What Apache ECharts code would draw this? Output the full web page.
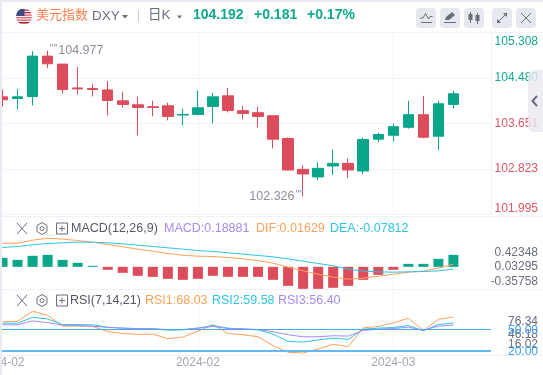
<!DOCTYPE html>
<html>
<head>
<meta charset="utf-8">
<title>DXY</title>
<style>
  html, body { margin: 0; padding: 0; background: #fff; }
  #chart { width: 543px; height: 375px; }
</style>
<script src="https://cdn.jsdelivr.net/npm/echarts@6/dist/echarts.min.js"></script>
</head>
<body>
<div id="chart"></div>
<script>
// 日K 数据
const opens = [104.137, 104.107, 104.143, 104.878, 104.733, 104.299, 104.287, 104.263, 104.064, 103.992, 103.956, 103.974, 103.805, 103.817, 103.962, 104.155, 103.884, 103.848, 103.793, 103.378, 102.817, 102.679, 102.878, 102.926, 102.787, 103.366, 103.438, 103.582, 103.811, 103.420, 103.998];
const closes = [104.083, 104.137, 104.878, 104.739, 104.269, 104.281, 104.269, 104.070, 103.998, 103.944, 103.944, 103.781, 103.817, 103.938, 104.137, 103.890, 103.835, 103.781, 103.366, 102.805, 102.733, 102.835, 102.926, 102.805, 103.360, 103.450, 103.594, 103.811, 103.402, 104.010, 104.192];
const lows = [103.962, 103.908, 103.980, 104.661, 104.197, 104.179, 104.143, 103.799, 103.944, 103.438, 103.781, 103.709, 103.619, 103.799, 103.655, 103.854, 103.727, 103.582, 103.197, 102.799, 102.326, 102.624, 102.715, 102.661, 102.733, 103.311, 103.329, 103.558, 103.384, 103.167, 103.926];
const highs = [104.263, 104.281, 104.968, 104.977, 104.733, 104.679, 104.372, 104.426, 104.227, 104.137, 104.064, 104.028, 103.920, 104.245, 104.209, 104.299, 103.974, 103.956, 103.793, 103.396, 102.890, 102.944, 103.179, 103.016, 103.396, 103.486, 103.649, 104.064, 104.155, 104.064, 104.245];

// MACD
const macdHist = [0.142, 0.110, 0.174, 0.189, 0.110, 0.063, 0.016, -0.047, -0.095, -0.142, -0.158, -0.189, -0.205, -0.189, -0.142, -0.158, -0.158, -0.158, -0.205, -0.300, -0.347, -0.347, -0.331, -0.300, -0.205, -0.126, -0.047, 0.047, 0.047, 0.126, 0.189];
const difLine = [0.373, 0.373, 0.421, 0.452, 0.437, 0.416, 0.389, 0.352, 0.316, 0.279, 0.247, 0.210, 0.184, 0.168, 0.163, 0.147, 0.126, 0.100, 0.058, -0.005, -0.063, -0.116, -0.163, -0.195, -0.179, -0.147, -0.116, -0.084, -0.068, -0.021, 0.042];
const deaLine = [0.305, 0.321, 0.347, 0.368, 0.379, 0.389, 0.389, 0.379, 0.363, 0.342, 0.321, 0.300, 0.279, 0.258, 0.242, 0.221, 0.200, 0.179, 0.158, 0.126, 0.089, 0.053, 0.016, -0.037, -0.068, -0.079, -0.084, -0.079, -0.074, -0.063, -0.037];

// RSI
const rsi1 = [60.95, 61.9, 76.34, 70.5, 54.8, 54.8, 54.3, 47.1, 44.3, 42.9, 43.3, 36.7, 39.1, 47.6, 57.1, 44.3, 42.4, 39.5, 26.7, 17.2, 16.02, 21.9, 28.6, 25.2, 52.4, 54.3, 59.5, 66.2, 48.6, 64.8, 68.03];
const rsi2 = [59.0, 59.0, 67.6, 65.2, 57.1, 57.1, 56.7, 53.3, 51.9, 51.0, 51.0, 49.0, 49.5, 51.9, 55.7, 51.9, 50.5, 49.5, 43.3, 32.9, 31.9, 34.8, 37.6, 35.7, 50.5, 51.9, 52.9, 55.7, 48.1, 57.1, 59.58];
const rsi3 = [56.7, 56.7, 62.4, 60.0, 56.2, 55.7, 54.8, 52.9, 51.9, 51.4, 51.0, 50.0, 50.0, 51.9, 54.3, 51.4, 51.0, 50.0, 46.7, 42.4, 39.5, 39.5, 41.0, 40.5, 48.6, 50.5, 51.4, 53.3, 49.0, 54.8, 56.40];

// 刻度
const priceTicks = ['101.995', '102.823', '103.651', '104.480', '105.308'];
const macdTicks = [-0.35758, 0.03295, 0.42348];
const rsiTicks = [16.02, 46.18, 76.34];
const xTickIndex = [0, 13, 26];
const xTickText = ['2024-02', '2024-02', '2024-03'];
const slots = Array.from({ length: 33 }, (_, i) => i);

const GREEN = '#0aa68a';
const RED = '#dc4c5b';
const GRID_LINE = '#f3f4f7';
const FONT = '"Liberation Sans", Arial, sans-serif';
const ICON = '#6a6e7c';

const candleData = opens.map((o, i) => [o, closes[i], lows[i], highs[i]]);

// 竖向网格线
function timeLines(z) {
  return {
    silent: true,
    symbol: 'none',
    z: z,
    label: { show: false },
    lineStyle: { color: GRID_LINE, width: 1, type: 'solid' },
    data: [{ xAxis: xTickIndex[1] }, { xAxis: xTickIndex[2] }],
  };
}

function xAxisOf(gridIndex, showLabel) {
  return {
    type: 'category',
    gridIndex: gridIndex,
    data: slots,
    boundaryGap: true,
    axisLine: { show: false },
    axisTick: { show: false },
    splitLine: { show: false },
    axisLabel: showLabel ? {
      show: true,
      interval: (i) => xTickIndex.includes(i),
      formatter: (v, i) => xTickText[xTickIndex.indexOf(i)] || '',
      color: '#a3a6b2',
      fontSize: 12,
      fontFamily: FONT,
      margin: 2,
    } : { show: false },
  };
}

function txt(x, y, text, color, size, weight) {
  return {
    type: 'text',
    x: x,
    y: y,
    z: 50,
    style: {
      text: text,
      fill: color,
      fontSize: size || 12.5,
      fontWeight: weight || 'normal',
      fontFamily: '"Liberation Sans", "Noto Sans CJK SC", sans-serif',
      verticalAlign: 'middle',
    },
  };
}

function line(x1, y1, x2, y2, color, width) {
  return {
    type: 'line',
    z: 50,
    shape: { x1: x1, y1: y1, x2: x2, y2: y2 },
    style: { stroke: color, lineWidth: width || 1 },
  };
}

function poly(points, fill) {
  return { type: 'polygon', z: 50, shape: { points: points }, style: { fill: fill } };
}

function button(x) {
  return { type: 'rect', z: 50, shape: { x: x, y: 8, width: 20, height: 20, r: 4 }, style: { fill: '#e6e8ef' } };
}

// 副图标题左边的三个小图标
function paneIcons(y) {
  return [
    line(17, y - 5.5, 27, y + 5.5, ICON),
    line(27, y - 5.5, 17, y + 5.5, ICON),
    { type: 'polygon', z: 50, shape: { points: [[42, y - 6], [47, y - 3], [47, y + 3], [42, y + 6], [37, y + 3], [37, y - 3]] }, style: { fill: 'none', stroke: ICON, lineWidth: 1 } },
    { type: 'circle', z: 50, shape: { cx: 42, cy: y, r: 2 }, style: { fill: 'none', stroke: ICON, lineWidth: 1 } },
    { type: 'rect', z: 50, shape: { x: 56.5, y: y - 5.5, width: 11, height: 11 }, style: { fill: 'none', stroke: ICON, lineWidth: 1 } },
    line(59, y, 65, y, ICON),
    line(62, y - 3, 62, y + 3, ICON),
  ];
}

const flagSvg = '<svg xmlns="http://www.w3.org/2000/svg" viewBox="0 0 16 16"><defs><clipPath id="c"><circle cx="8" cy="8" r="8"/></clipPath></defs><g clip-path="url(#c)"><rect width="16" height="16" fill="#f4f4f6"/><rect y="1" width="16" height="1.3" fill="#c8283c"/><rect y="3.5" width="16" height="1.3" fill="#c8283c"/><rect y="6" width="16" height="1.3" fill="#d9606e"/><rect y="8.5" width="16" height="1.3" fill="#d9606e"/><rect y="11" width="16" height="1.3" fill="#d9606e"/><rect y="13.5" width="16" height="1.6" fill="#b81f33"/><rect width="8.5" height="7.5" fill="#3c4a86"/></g></svg>';

const chrome = [
  // 标题栏
  { type: 'image', z: 50, style: { image: 'data:image/svg+xml,' + encodeURIComponent(flagSvg), x: 16, y: 8.5, width: 16, height: 16 } },
  txt(36, 15, '美元指数', '#ff7f50', 13),
  txt(92, 16.5, 'DXY', '#6a6e7c', 13.5),
  poly([[122, 15], [128, 15], [125, 18.5]], '#6a6e7c'),
  line(138.5, 10, 138.5, 22, '#c9ccd6'),
  txt(148, 15, '日K', '#6a6e7c', 13.5),
  poly([[177, 15.5], [182, 15.5], [179.5, 18.5]], '#6a6e7c'),
  txt(193, 15.5, '104.192', '#10a98c', 14, 'bold'),
  txt(254, 15.5, '+0.181', '#10a98c', 14, 'bold'),
  txt(307, 15.5, '+0.17%', '#10a98c', 14, 'bold'),
  button(416), button(440), button(464), button(492), button(516),
  line(421, 22.5, 432, 22.5, ICON),
  { type: 'polyline', z: 50, shape: { points: [[420, 18], [423, 18], [425.5, 13.5], [428.5, 19], [430, 16.5], [432.5, 16.5]] }, style: { fill: 'none', stroke: ICON, lineWidth: 1 } },
  poly([[445, 20], [446, 17], [452, 12], [455, 15], [449, 20]], ICON),
  line(444, 22.5, 456, 22.5, ICON),
  line(470.5, 12, 470.5, 23, ICON),
  { type: 'rect', z: 50, shape: { x: 468.5, y: 14, width: 4, height: 6 }, style: { fill: ICON } },
  line(477.5, 13, 477.5, 24, ICON),
  { type: 'rect', z: 50, shape: { x: 475.5, y: 15, width: 4, height: 6 }, style: { fill: ICON } },
  line(498, 22, 506, 14, ICON),
  poly([[503, 13], [507, 13], [507, 17]], ICON),
  poly([[497, 19], [497, 23], [501, 23]], ICON),
  line(521, 13, 531, 23, ICON),
  line(531, 13, 521, 23, ICON),
  line(2, 32.5, 543, 32.5, '#f3f4f7', 1),
  // 面板分隔线
  line(2, 216.5, 543, 216.5, '#f0f1f4'),
  line(2, 289.5, 543, 289.5, '#f0f1f4'),
  line(2, 355.5, 543, 355.5, '#f0f1f4'),
  // 副图标题
  ...paneIcons(228.5),
  txt(71, 228.5, 'MACD(12,26,9)', '#55586a'),
  txt(164, 228.5, 'MACD:0.18881', '#a78bef'),
  txt(256, 228.5, 'DIF:0.01629', '#ffa15c'),
  txt(330, 228.5, 'DEA:-0.07812', '#2ec4e3'),
  ...paneIcons(300.5),
  txt(70, 300.5, 'RSI(7,14,21)', '#55586a'),
  txt(145, 300.5, 'RSI1:68.03', '#ffa15c'),
  txt(212, 300.5, 'RSI2:59.58', '#2ec4e3'),
  txt(278, 300.5, 'RSI3:56.40', '#a78bef'),
  // 右侧收起按钮
  { type: 'rect', z: 60, shape: { x: 528, y: 70, width: 20, height: 62, r: 6 }, style: { fill: 'rgba(232,233,240,0.8)' } },
  { type: 'polyline', z: 61, shape: { points: [[537, 96], [532.5, 101], [537, 106]] }, style: { fill: 'none', stroke: '#6a6e7c', lineWidth: 2 } },
  // 外框灰边
  { type: 'rect', z: 70, shape: { x: 0, y: 0, width: 2, height: 375 }, style: { fill: '#e8ebf1' } },
  { type: 'rect', z: 70, shape: { x: 0, y: 0, width: 543, height: 2 }, style: { fill: '#e8ebf1' } },
];

const chart = echarts.init(document.getElementById('chart'));
chart.setOption({
  animation: false,
  backgroundColor: '#fff',
  graphic: { elements: chrome },
  grid: [
    { left: -5, width: 496, top: 32.5, height: 182, outerBoundsMode: 'none' },
    { left: -5, width: 496, top: 216, height: 73.5, outerBoundsMode: 'none' },
    { left: -5, width: 496, top: 289, height: 66, outerBoundsMode: 'none' },
  ],
  xAxis: [xAxisOf(0, false), xAxisOf(1, false), xAxisOf(2, true)],
  yAxis: [
    {
      type: 'value',
      gridIndex: 0,
      position: 'right',
      min: 101.995,
      max: 105.308,
      interval: 0.82825,
      axisLine: { show: true, lineStyle: { color: '#eff0f3' } },
      axisTick: { show: false },
      splitLine: { show: true, lineStyle: { color: GRID_LINE, width: 1 } },
      axisLabel: {
        align: 'right',
        margin: 47,
        fontSize: 12,
        fontFamily: FONT,
        padding: [3, 0, 0, 0],
        verticalAlignMinLabel: 'bottom',
        verticalAlignMaxLabel: 'top',
        formatter: (v, i) => priceTicks[i] || '',
        color: (v) => (v > 104 ? '#12ab8f' : '#dd5766'),
      },
    },
    {
      type: 'value',
      gridIndex: 1,
      position: 'right',
      min: -0.35758,
      max: 0.8022,
      axisLine: { show: false },
      axisTick: { show: false },
      splitLine: { show: false },
      axisLabel: {
        customValues: macdTicks,
        showMinLabel: true,
        showMaxLabel: true,
        align: 'right',
        margin: 47,
        fontFamily: FONT,
        formatter: (v) => {
          const k = macdTicks.indexOf(v);
          return '{p' + k + '|' + v.toFixed(5) + '}';
        },
        rich: {
          p0: { color: '#6a6e7c', fontSize: 12, padding: [0, 0, 15, 0] },
          p1: { color: '#6a6e7c', fontSize: 12, padding: [3, 0, 0, 0] },
          p2: { color: '#6a6e7c', fontSize: 12, padding: [25, 0, 0, 0] },
        },
      },
    },
    {
      type: 'value',
      gridIndex: 2,
      position: 'right',
      min: 13.2,
      max: 108.4,
      axisLine: { show: false },
      axisTick: { show: false },
      splitLine: { show: false },
      axisLabel: {
        // 首尾放空标签，避免三个贴近的刻度被互相隐藏
        customValues: [13.2, ...rsiTicks, 108.4],
        showMinLabel: false,
        showMaxLabel: false,
        hideOverlap: false,
        align: 'right',
        margin: 47,
        fontFamily: FONT,
        formatter: (v) => {
          const k = rsiTicks.indexOf(v);
          return k < 0 ? '' : '{p' + k + '|' + v.toFixed(2) + '}';
        },
        rich: {
          p0: { color: '#6a6e7c', fontSize: 12, padding: [0, 0, 16, 0] },
          p1: { color: '#6a6e7c', fontSize: 12, padding: [5, 0, 0, 0] },
          p2: { color: '#6a6e7c', fontSize: 12, padding: [20, 0, 0, 0] },
        },
      },
    },
  ],
  series: [
    {
      name: '日K',
      type: 'candlestick',
      xAxisIndex: 0,
      yAxisIndex: 0,
      barWidth: 11,
      data: candleData,
      itemStyle: { color: GREEN, color0: RED, borderColor: GREEN, borderColor0: RED, borderWidth: 1 },
      markLine: timeLines(1),
      markPoint: {
        symbol: 'circle',
        symbolSize: 0,
        silent: true,
        data: [
          {
            coord: [3, 104.977],
            label: { show: true, position: 'right', distance: 2, formatter: "{d|''''}{t|104.977}", rich: { d: { color: '#8b8e9b', fontSize: 10, padding: [0, 1, 3, 0] }, t: { color: '#8b8e9b', fontSize: 12.5, fontFamily: FONT } } },
          },
          {
            coord: [20, 102.326],
            label: { show: true, position: 'left', distance: 0, formatter: "{t|102.326}{d|''''}", rich: { d: { color: '#8b8e9b', fontSize: 10, padding: [0, 0, 3, 1] }, t: { color: '#8b8e9b', fontSize: 12.5, fontFamily: FONT } } },
          },
        ],
      },
    },
    {
      name: 'MACD',
      type: 'bar',
      xAxisIndex: 1,
      yAxisIndex: 1,
      barWidth: 10,
      data: macdHist,
      itemStyle: { color: (p) => (p.value >= 0 ? GREEN : RED) },
      markLine: timeLines(1),
    },
    {
      name: 'DIF',
      type: 'line',
      xAxisIndex: 1,
      yAxisIndex: 1,
      data: difLine,
      symbol: 'none',
      lineStyle: { color: '#ffa15c', width: 1 },
    },
    {
      name: 'DEA',
      type: 'line',
      xAxisIndex: 1,
      yAxisIndex: 1,
      data: deaLine,
      symbol: 'none',
      lineStyle: { color: '#2ec4e3', width: 1 },
    },
    {
      name: 'RSI1',
      type: 'line',
      xAxisIndex: 2,
      yAxisIndex: 2,
      data: rsi1,
      symbol: 'none',
      lineStyle: { color: '#ffa15c', width: 1 },
      markLine: timeLines(1),
    },
    {
      name: 'RSI2',
      type: 'line',
      xAxisIndex: 2,
      yAxisIndex: 2,
      data: rsi2,
      symbol: 'none',
      lineStyle: { color: '#2ec4e3', width: 1 },
    },
    {
      name: 'RSI3',
      type: 'line',
      xAxisIndex: 2,
      yAxisIndex: 2,
      data: rsi3,
      symbol: 'none',
      lineStyle: { color: '#a78bef', width: 1 },
      // 超买超卖线
      markLine: {
        silent: true,
        symbol: 'none',
        label: {
          show: true,
          position: 'end',
          distance: 17,
          offset: [0, 1],
          color: '#3a9df2',
          fontSize: 12,
          fontFamily: FONT,
          formatter: (p) => p.value.toFixed(2),
        },
        data: [
          { yAxis: 50, lineStyle: { color: '#4aa5f0', width: 1, type: 'solid', opacity: 1 } },
          { yAxis: 20, lineStyle: { color: '#63b8f5', width: 2, type: 'solid', opacity: 1 } },
        ],
      },
    },
  ],
});
</script>
</body>
</html>
